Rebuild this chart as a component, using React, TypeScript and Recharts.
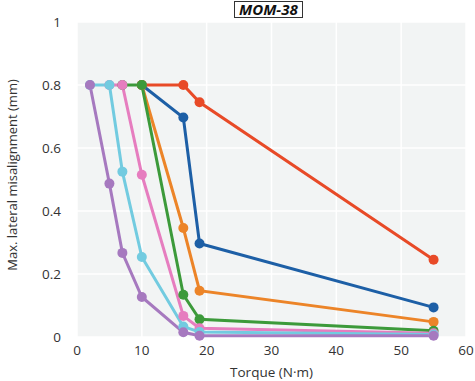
import React from "react";
import { LineChart, Line, XAxis, YAxis, CartesianGrid, Label } from "recharts";

const xTicks = [0, 10, 20, 30, 40, 50, 60];
const yTicks = [0, 0.2, 0.4, 0.6, 0.8, 1];

const redSeries = [
  { x: 10, y: 0.8 },
  { x: 16.4, y: 0.8 },
  { x: 18.9, y: 0.745 },
  { x: 55, y: 0.245 },
];
const blueSeries = [
  { x: 10, y: 0.8 },
  { x: 16.4, y: 0.697 },
  { x: 18.9, y: 0.297 },
  { x: 55, y: 0.094 },
];
const orangeSeries = [
  { x: 10, y: 0.8 },
  { x: 16.4, y: 0.346 },
  { x: 18.9, y: 0.147 },
  { x: 55, y: 0.048 },
];
const greenSeries = [
  { x: 7, y: 0.8 },
  { x: 10, y: 0.8 },
  { x: 16.4, y: 0.134 },
  { x: 18.9, y: 0.056 },
  { x: 55, y: 0.02 },
];
const pinkSeries = [
  { x: 5, y: 0.8 },
  { x: 7, y: 0.8 },
  { x: 10, y: 0.515 },
  { x: 16.4, y: 0.067 },
  { x: 18.9, y: 0.028 },
  { x: 55, y: 0.012 },
];
const cyanSeries = [
  { x: 2, y: 0.8 },
  { x: 5, y: 0.8 },
  { x: 7, y: 0.525 },
  { x: 10, y: 0.254 },
  { x: 16.4, y: 0.033 },
  { x: 18.9, y: 0.016 },
  { x: 55, y: 0.008 },
];
const purpleSeries = [
  { x: 2, y: 0.8 },
  { x: 5, y: 0.487 },
  { x: 7, y: 0.267 },
  { x: 10, y: 0.127 },
  { x: 16.4, y: 0.015 },
  { x: 18.9, y: 0.004 },
  { x: 55, y: 0.004 },
];

const seriesList = [
  { name: "red", data: redSeries, color: "#e84a27" },
  { name: "blue", data: blueSeries, color: "#1d5fa6" },
  { name: "orange", data: orangeSeries, color: "#ec8428" },
  { name: "green", data: greenSeries, color: "#3c9a3a" },
  { name: "pink", data: pinkSeries, color: "#e67dbf" },
  { name: "cyan", data: cyanSeries, color: "#72cbe0" },
  { name: "purple", data: purpleSeries, color: "#a679bf" },
];

const FONT = "'Open Sans', 'Noto Sans', sans-serif";

const YLabel = () => {
  const cx = 12;
  const cy = 175;
  return (
    <text
      x={cx}
      y={cy}
      transform={`rotate(-90, ${cx}, ${cy})`}
      textAnchor="middle"
      dominantBaseline="central"
      fontSize={13}
      fill="#333"
      fontFamily={FONT}
    >
      Max. lateral misalignment (mm)
    </text>
  );
};

export default function App() {
  return (
    <div style={{ position: "absolute", left: 0, top: 0, width: 475, height: 381, background: "#fff", fontFamily: FONT }}>
      <div
        style={{
          position: "absolute",
          left: 234,
          top: 1,
          border: "1.5px solid #333",
          padding: "0 4px",
          fontSize: 15,
          lineHeight: "15px",
          fontWeight: 700,
          fontStyle: "italic",
          color: "#111",
          fontFamily: FONT,
          zIndex: 2,
        }}
      >
        MOM-38
      </div>
      <LineChart width={475} height={381} margin={{ top: 22, right: 9, bottom: 0, left: 0 }}>
        <CartesianGrid fill="#f2f4f4" stroke="#ffffff" strokeWidth={1.5} />
        <XAxis
          type="number"
          dataKey="x"
          domain={[0, 60]}
          ticks={xTicks}
          axisLine={false}
          tickLine={false}
          tickSize={0}
          tickMargin={8}
          height={44}
          tick={{ fontSize: 13.5, fill: "#333", fontFamily: FONT }}
          allowDuplicatedCategory={false}
        >
          <Label value="Torque (N·m)" position="insideBottom" offset={4} fontSize={13.5} fill="#333" fontFamily={FONT} />
        </XAxis>
        <YAxis
          type="number"
          dataKey="y"
          domain={[0, 1]}
          ticks={yTicks}
          axisLine={false}
          tickLine={false}
          tickSize={0}
          tickMargin={16}
          width={77}
          tick={{ fontSize: 13.5, fill: "#333", fontFamily: FONT }}
        >
          <Label content={<YLabel />} />
        </YAxis>
        {seriesList.map((s) => (
          <Line
            key={s.name}
            data={s.data}
            dataKey="y"
            type="linear"
            stroke={s.color}
            strokeWidth={3}
            dot={{ r: 5, fill: s.color, stroke: "none" }}
            activeDot={false}
            isAnimationActive={false}
          />
        ))}
      </LineChart>
    </div>
  );
}
